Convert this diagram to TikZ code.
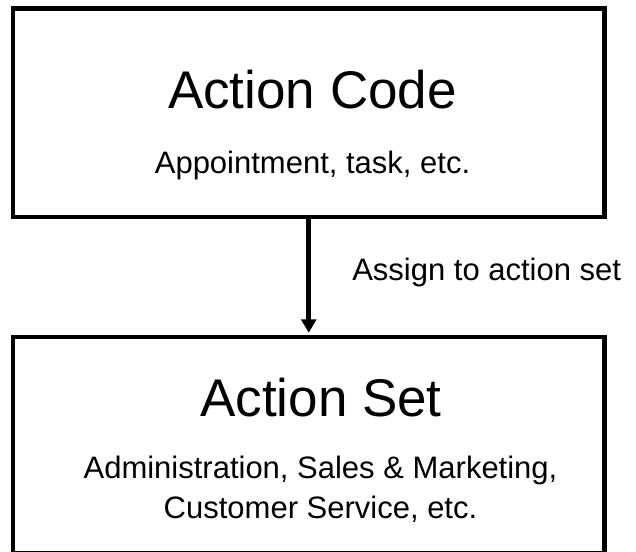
\documentclass[tikz,border=0pt]{standalone}
\usepackage{fontspec}
\setmainfont{Liberation Sans}
\usetikzlibrary{arrows.meta}
\tikzset{
    box/.style={rectangle, draw, line width=3.4pt, minimum width=443.6pt,
    	inner sep=0pt}
}
\tikzset{
    head/.style={inner sep=0pt, anchor=base, font=\fontsize{39.75}{48}\selectfont},
    note/.style={inner sep=0pt, anchor=base, align=center,
    	font=\fontsize{23.25}{30}\selectfont}
}
\tikzset{
    flow/.style={line width=3.4pt, -{Triangle[length=10pt,width=11pt]}, shorten >=1.5pt}
}
\begin{document}
\begin{tikzpicture}[x=0.75pt,y=-0.75pt]
  \useasboundingbox (0,0) rectangle (636,551);
  \node [box, minimum height=156.4pt] (code) at (308.75,112.75) {};
  \node [box, minimum height=162pt] (set) at (308.75,445) {};
  \node [head] (codehead) at (312.5,108) {Action Code};
  \node [note] (codenote) at (312.5,173) {Appointment, task, etc.};
  \node [head] (sethead) at (321,416.7) {Action Set};
  % base of a two-line node sits on its last line
  \node [note] (setnote) at (320.5,518) {Administration, Sales \& Marketing,\\Customer Service, etc.};
  \node [note, anchor=base west] (assign) at (352,280) {Assign to action set};
  \draw [flow] (code) -- (set);
\end{tikzpicture}
\end{document}
